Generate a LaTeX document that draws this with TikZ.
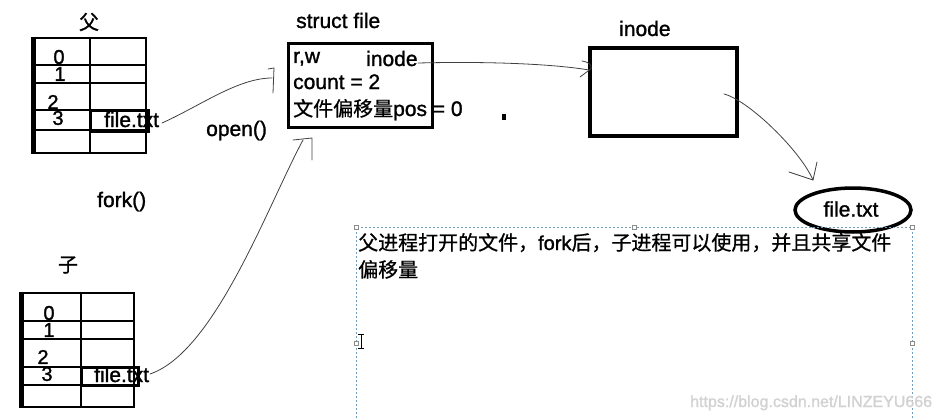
\documentclass[tikz,border=0pt]{standalone}
\usepackage{fontspec}
\usetikzlibrary{shapes.geometric}
\setmainfont{Liberation Sans}[FakeBold=1.3]
\newfontfamily\cjk{Noto Sans CJK SC}[Scale=0.952, FakeBold=0.8]
\begin{document}
\begin{tikzpicture}[x=1pt,y=-1pt,
  txt/.style={inner sep=0pt, font=\fontsize{21}{25}\selectfont},
  dig/.style={inner sep=0pt, font=\fontsize{20}{22}\selectfont},
  grid/.style={line width=2.8pt},
  thickedge/.style={line width=5pt},
  wire/.style={line width=0.8pt, draw=black!75, line cap=round, line join=round},
  handle/.style={draw=black!45, fill=white, line width=0.5pt, minimum size=3.5pt, inner sep=0pt},
  selbox/.style={draw={rgb,255:red,110;green,160;blue,190}, line width=0.7pt, dash pattern=on 2pt off 2pt},
  ]
\useasboundingbox (0,0) rectangle (937,420);

% ---------- parent table ----------
\node[txt] (fa) at (89,22) {\cjk 父};
\draw[grid] (32,38) rectangle (146,153);
\draw[grid] (90,38) -- (90,153);
\foreach \y in {65,83,110,130} \draw[grid] (32,\y) -- (146,\y);
\draw[thickedge] (33,36.8) -- (33,154.2);
\draw[line width=3pt] (90,110) rectangle (148,131);
\node[dig] (p0) at (59,57) {0};
\node[dig] (p1) at (60,74) {1};
\node[dig] (p2) at (53,102) {2};
\node[dig] (p3) at (58,118) {3};
\node[txt, anchor=base west] (pft) at (104,127) {file.txt};

% ---------- child table ----------
\node[txt] (zi) at (68,265) {\cjk 子};
\draw[grid] (20,293) rectangle (134,407);
\draw[grid] (81,293) -- (81,407);
\foreach \y in {321,339,367,385} \draw[grid] (20,\y) -- (134,\y);
\draw[thickedge] (21,291.8) -- (21,408.2);
\draw[line width=3pt] (81,367) rectangle (138,385);
\node[dig] (c0) at (49,313) {0};
\node[dig] (c1) at (49,330) {1};
\node[dig] (c2) at (43,357) {2};
\node[dig] (c3) at (47,374) {3};
\node[txt, anchor=base west] (cft) at (94,382) {file.txt};

% ---------- labels ----------
\node[txt, anchor=base west] (openl) at (206,136) {open()};
\node[txt, anchor=base west] (forkl) at (97,207) {fork()};

% ---------- struct file ----------
\node[txt, anchor=base west] (sft) at (296,28) {struct file};
\node[draw, line width=3pt, minimum width=144pt, minimum height=83pt, inner sep=0pt] (sf) at (360,85.5) {};
\node[txt, anchor=base west] (rw) at (293,63) {r,w};
\node[txt, anchor=base west] (sfi) at (366,66) {inode};
\node[txt, anchor=base west] (cnt) at (293,89) {count = 2};
\node[txt, anchor=base west] (pos) at (293,116) {{\cjk 文件偏移量}pos = 0};

% ---------- dot ----------
\fill (502,114) rectangle (506,120);

% ---------- inode ----------
\node[txt, anchor=base west] (ibt) at (619,36) {inode};
\node[draw, line width=3.5pt, minimum width=147pt, minimum height=88pt, inner sep=0pt] (ib) at (663.5,92) {};

% ---------- file.txt ellipse ----------
\node[draw, ellipse, line width=3.5pt, minimum width=116pt, minimum height=44pt, inner sep=0pt] (ell) at (853,210) {};
\node[txt] (ellt) at (851,209) {file.txt};

% ---------- selection box with note ----------
\draw[selbox] (356,430) -- (356,227) -- (912,227) -- (912,430);
\node[handle] (h1) at (356,227) {};
\node[handle] (h2) at (634,227) {};
\node[handle] (h3) at (912,227) {};
\node[handle] (h4) at (356,343) {};
\node[handle] (h5) at (912,343) {};
\node[txt, anchor=base west] (note1) at (358,250) {{\cjk 父进程打开的文件，}{\fontsize{20}{24}\selectfont fork}{\cjk 后，子进程可以使用，并且共享文件}};
\node[txt, anchor=base west] (note2) at (358,277) {\cjk 偏移量};
% text cursor
\draw[line width=0.9pt] (361,334) -- (361,348) (358,334) -- (364,334) (358,348) -- (364,348);

% watermark
\node[inner sep=0pt, anchor=base west, text=black!18, font=\fontsize{16}{18}\selectfont] (wm) at (690,407) {https://blog.csdn.net/LINZEYU666};

% ---------- connectors ----------
\coordinate (a1s) at (162,123);
\coordinate (a1e) at (272,78);
\draw[wire] (a1s) .. controls (200,106) and (238,78) .. (a1e);
\draw[wire] (268,69) -- (274,68) -- (273,93);

\coordinate (a2s) at (150,374);
\coordinate (a2e) at (303,140);
\draw[wire] (a2s) .. controls (215,352) and (268,205) .. (a2e);
\draw[wire] (293,140) -- (312,138) -- (312,160);

\coordinate (a3s) at (418,63);
\coordinate (a3e) at (589,70);
\draw[wire] (a3s) .. controls (500,61) and (560,65) .. (a3e);
\draw[wire] (582,61) .. controls (590,62) and (595,68) .. (588,71) -- (580,77);

\coordinate (a4s) at (724,94);
\coordinate (a4e) at (813,180);
\draw[wire] (a4s) .. controls (748,100) and (800,150) .. (a4e);
\draw[wire] (789,172) -- (a4e) -- (817,162);
\end{tikzpicture}
\end{document}
